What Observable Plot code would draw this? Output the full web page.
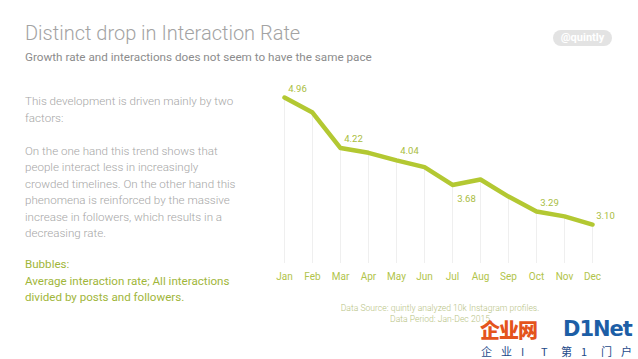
<!DOCTYPE html>
<html><head><meta charset="utf-8">
<script src="https://cdn.jsdelivr.net/npm/d3@7"></script>
<script src="https://cdn.jsdelivr.net/npm/@observablehq/plot@0.6"></script>
<style>
html,body{margin:0;padding:0;background:#fff;}
#wrap{position:relative;width:638px;height:359px;overflow:hidden;font-family:Roboto,"Noto Sans",sans-serif;}
#wrap svg{position:absolute;left:0;top:0;}
.t{position:absolute;white-space:nowrap;}
#title{left:25px;top:21px;font-size:20px;font-weight:300;color:#a3a3a3;}
#sub{left:25px;top:50px;font-size:11.7px;color:#8c8c8c;}
#body{left:25px;top:93px;font-size:11.6px;font-weight:300;color:#a6a6a6;line-height:16.5px;}
#bub{left:25px;top:256px;font-size:11.6px;color:#9fb63a;line-height:16.5px;}
#badge{left:553px;top:30px;width:59px;height:16px;border-radius:8px;background:#e3e3e3;color:#fff;font-weight:700;font-size:11px;text-align:center;line-height:16px;}
#src{left:290px;width:300px;top:303px;font-size:8.6px;font-weight:300;color:#b7c384;text-align:center;line-height:11px;}
#logo1{left:480px;top:319px;font-size:20px;line-height:22px;font-weight:900;color:#e4541c;font-family:"Noto Sans CJK SC";letter-spacing:-1px;}
#logo2{left:563px;top:317px;font-size:21px;font-weight:900;color:#1d5ea6;font-family:"DejaVu Sans";line-height:24px;letter-spacing:-1px;}
#logo3{left:481px;top:344px;font-size:11px;line-height:14px;color:#1d4a8a;font-family:"Noto Sans CJK SC";word-spacing:0;}
#logo3 span{display:inline-block;width:20px;}
#logo3 span:last-child{width:auto;}
</style></head>
<body><div id="wrap">
<div class="t" id="title">Distinct drop in Interaction Rate</div>
<div class="t" id="sub">Growth rate and interactions does not seem to have the same pace</div>
<div class="t" id="badge">@quintly</div>
<div class="t" id="body">This development is driven mainly by two<br>factors:<br><br>On the one hand this trend shows that<br>people interact less in increasingly<br>crowded timelines. On the other hand this<br>phenomena is reinforced by the massive<br>increase in followers, which results in a<br>decreasing rate.</div>
<div class="t" id="bub">Bubbles:<br>Average interaction rate; All interactions<br>divided by posts and followers.</div>
<div class="t" id="src">Data Source: quintly analyzed 10k Instagram profiles.<br>Data Period: Jan-Dec 2015</div>
<div class="t" id="logo1">企业网</div>
<div class="t" id="logo2">D1Net</div>
<div class="t" id="logo3"><span>企</span><span>业</span><span>I</span><span>T</span><span>第</span><span>1</span><span>门</span><span>户</span></div>
</div>
<script>
const months = ["Jan","Feb","Mar","Apr","May","Jun","Jul","Aug","Sep","Oct","Nov","Dec"];
const rates = [4.96, 4.74, 4.22, 4.15, 4.04, 3.94, 3.68, 3.76, 3.51, 3.29, 3.22, 3.10];
const labeledAbove = ["Jan","Mar","May","Oct","Dec"];
const labeledBelow = ["Jul"];
const yMin = 2.53;

const data = months.map((m, i) => ({month: m, rate: rates[i]}));
const lineColor = "#b3c832";
const labelColor = "#a9bd3e";

const chart = Plot.plot({
  width: 638, height: 359,
  marginLeft: 283, marginRight: 46, marginTop: 97, marginBottom: 96,
  style: {fontFamily: "Roboto, sans-serif", background: "transparent"},
  x: {type: "point", domain: months, padding: 0},
  y: {domain: [yMin, 4.96], axis: null},
  marks: [
    Plot.ruleX(data, {x: "month", y1: "rate", y2: yMin, stroke: "#efefef", strokeWidth: 1}),
    Plot.line(data, {x: "month", y: "rate", stroke: lineColor, strokeWidth: 4.5, strokeLinejoin: "round", strokeLinecap: "round"}),
    Plot.text(data.filter(d => labeledAbove.includes(d.month)), {x: "month", y: "rate", text: d => d.rate.toFixed(2), dx: 13, dy: -9, fill: labelColor, fontSize: 9.5}),
    Plot.text(data.filter(d => labeledBelow.includes(d.month)), {x: "month", y: "rate", text: d => d.rate.toFixed(2), dx: 14, dy: 14, fill: labelColor, fontSize: 9.5}),
    Plot.axisX({tickSize: 0, tickPadding: 9, fill: "#b1c44a", fontSize: 10, label: null})
  ]
});
document.getElementById("wrap").prepend(chart);
</script>
</body></html>
